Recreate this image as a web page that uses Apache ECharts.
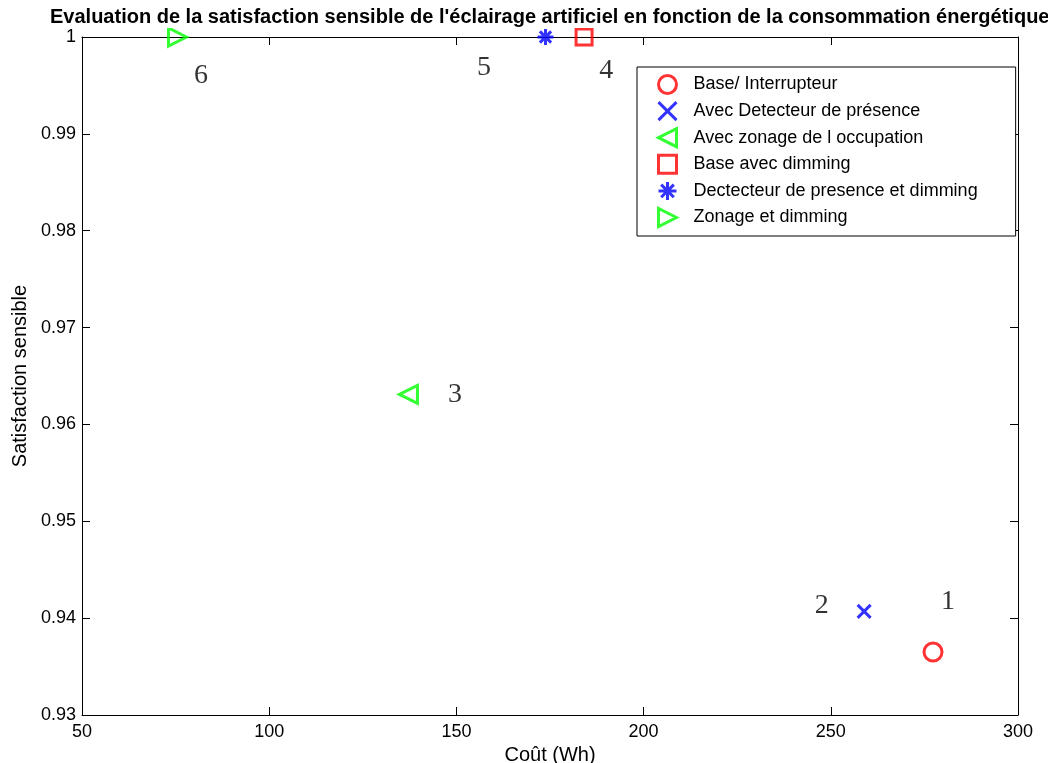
<!DOCTYPE html>
<html>
<head>
<meta charset="utf-8">
<style>
  html, body { margin: 0; padding: 0; background: #fff; }
  #chart { width: 1048px; height: 763px; }
</style>
<script src="https://cdn.jsdelivr.net/npm/echarts@6/dist/echarts.min.js"></script>
</head>
<body>
<div id="chart"></div>
<script>
let seriesNames = ['Base/ Interrupteur', 'Avec Detecteur de présence', 'Avec zonage de l occupation',
  'Base avec dimming', 'Dectecteur de presence et dimming', 'Zonage et dimming'];
let costs = [277.3, 258.9, 137.2, 184.1, 173.8, 75.5];
let satisfaction = [0.9365, 0.9407, 0.9631, 1.0, 1.0, 1.0];
let pointNums = ['1', '2', '3', '4', '5', '6'];
let numX = [281.3, 247.6, 149.6, 190.0, 156.6, 81.8];
let numY = [0.9417, 0.9413, 0.9631, 0.9965, 0.9968, 0.9960];
let xTicks = [50, 300, 50];
let yTicks = [0.93, 1, 0.01];

let colors = ['#ff0000', '#0000ff', '#00ff00', '#ff0000', '#0000ff', '#00ff00'];
let symbols = [
  'circle',
  'path://M0,0L20,20M20,0L0,20',
  'path://M0,10L20,0L20,20Z',
  'path://M0,0L20,0L20,20L0,20Z',
  'path://M10,0L10,20M0,10L20,10M3,3L17,17M17,3L3,17',
  'path://M20,10L0,0L0,20Z'
];
let sizes = [18, 13, 18, 16, 16, 18];

let FONT = 'Liberation Sans, Arial, sans-serif';

let series = [];
seriesNames.forEach((name, i) => {
  series.push({
    name: name,
    type: 'scatter',
    clip: false,
    symbol: symbols[i],
    symbolSize: sizes[i],
    symbolKeepAspect: true,
    itemStyle: {
      color: 'rgba(0,0,0,0)',
      borderColor: colors[i],
      borderWidth: 3
    },
    emphasis: { disabled: true },
    data: [[costs[i], satisfaction[i]]],
    z: 3
  });
});

// le "5" a un fond blanc qui coupe le bord haut du cadre
let numData = pointNums.map((n, i) => {
  let item = { value: [numX[i], numY[i], n] };
  if (n === '5') {
    item.label = { backgroundColor: '#fff', padding: [24, 14, 2, 20] };
  }
  return item;
});

series.push({
  name: 'nums',
  type: 'scatter',
  clip: false,
  symbolSize: 1,
  itemStyle: { color: 'rgba(0,0,0,0)' },
  silent: true,
  label: {
    show: true,
    position: 'inside',
    formatter: p => p.value[2],
    fontFamily: 'Liberation Serif, Times New Roman, serif',
    fontSize: 28,
    color: '#000'
  },
  data: numData,
  z: 10
});

let myChart = echarts.init(document.getElementById('chart'));

let axisBase = {
  axisLine: { show: true, onZero: false, lineStyle: { color: '#000', width: 1 } },
  axisTick: { show: true, inside: true, length: 8, lineStyle: { color: '#000' } },
  splitLine: { show: false }
};

option = {
  animation: false,
  backgroundColor: '#fff',
  title: {
    text: "Evaluation de la satisfaction sensible de l'éclairage artificiel en fonction de la consommation énergétique",
    left: 48,
    top: 6,
    padding: [0, 2, 0, 2],
    backgroundColor: '#fff',
    textStyle: { fontFamily: FONT, fontSize: 20, fontWeight: 'bold', color: '#000', lineHeight: 22 }
  },
  legend: {
    orient: 'vertical',
    left: 637,
    top: 67,
    padding: [7, 38, 8, 20],
    itemWidth: 18,
    itemHeight: 18,
    itemGap: 5.6,
    borderColor: '#000',
    borderWidth: 1,
    backgroundColor: '#fff',
    data: seriesNames,
    selectedMode: false,
    itemStyle: { borderWidth: 3 },
    textStyle: { fontFamily: FONT, fontSize: 18, color: '#000', lineHeight: 18, padding: [0, 0, 0, 12] }
  },
  grid: { left: 82, right: 30, top: 37, bottom: 48, outerBoundsMode: 'none' },
  xAxis: [
    Object.assign({
      type: 'value',
      min: xTicks[0], max: xTicks[1], interval: xTicks[2],
      name: 'Coût (Wh)',
      nameLocation: 'middle',
      nameGap: 23,
      nameTextStyle: { fontFamily: FONT, fontSize: 20, color: '#000' },
      axisLabel: { fontFamily: FONT, fontSize: 18, color: '#000', margin: 8 }
    }, axisBase),
    Object.assign({
      type: 'value', position: 'top',
      min: xTicks[0], max: xTicks[1], interval: xTicks[2],
      axisLabel: { show: false }
    }, axisBase)
  ],
  yAxis: [
    Object.assign({
      type: 'value',
      min: yTicks[0], max: yTicks[1], interval: yTicks[2],
      name: 'Satisfaction sensible',
      nameLocation: 'middle',
      nameGap: 50,
      nameTextStyle: { fontFamily: FONT, fontSize: 20, color: '#000' },
      axisLabel: {
        fontFamily: FONT, fontSize: 18, color: '#000', margin: 6,
        formatter: v => String(parseFloat(v.toFixed(2)))
      }
    }, axisBase),
    Object.assign({
      type: 'value', position: 'right',
      min: yTicks[0], max: yTicks[1], interval: yTicks[2],
      axisLabel: { show: false }
    }, axisBase)
  ],
  series: series
};

myChart.setOption(option);
</script>
</body>
</html>
